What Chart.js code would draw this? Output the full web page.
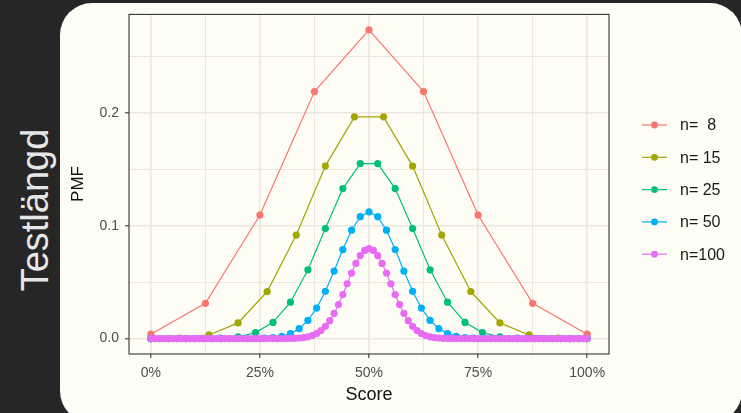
<!DOCTYPE html>
<html>
<head>
<meta charset="utf-8">
<script src="https://cdn.jsdelivr.net/npm/chart.js@4"></script>
<style>
  html, body { margin: 0; padding: 0; }
  body { width: 741px; height: 413px; background: #262626; position: relative; overflow: hidden;
         font-family: "Liberation Sans", Arial, sans-serif; }
  #card { position: absolute; left: 60px; top: 3px; width: 682px; height: 420px;
          background: #fdfdf6; border-radius: 32px; }
  #side { position: absolute; left: 35px; top: 210px; transform: translate(-50%, -50%) rotate(-90deg);
          color: #e6e6e6; font-size: 38px; white-space: nowrap; line-height: 1; }
  #wrap { position: absolute; left: 0; top: 0; width: 741px; height: 413px; }
</style>
</head>
<body>
<div id="card"></div>
<div id="side">Testlängd</div>
<div id="wrap"><canvas id="c" width="741" height="413"></canvas></div>
<script>
// Test lengths and their score distributions (probability of each raw score 0..n)
const testLengths = [8, 15, 25, 50, 100];
const seriesLabels = ['n=  8', 'n= 15', 'n= 25', 'n= 50', 'n=100'];
const seriesColors = ['#F8766D', '#A3A500', '#00BF7D', '#00B0F6', '#E76BF3'];

const pmfN8 = [0.003906, 0.03125, 0.109375, 0.21875, 0.273438, 0.21875, 0.109375, 0.03125, 0.003906];

const pmfN15 = [
  0.0000305, 0.000458, 0.003204, 0.013885, 0.041656, 0.091644, 0.15274, 0.196381,
  0.196381, 0.15274, 0.091644, 0.041656, 0.013885, 0.003204, 0.000458, 0.0000305
];

const pmfN25 = [
  0.00000003, 0.00000075, 0.0000089, 0.0000685, 0.000377, 0.001583, 0.005278, 0.014326, 0.032233, 0.060886,
  0.097417, 0.132843, 0.154981, 0.154981, 0.132843, 0.097417, 0.060886, 0.032233, 0.014326, 0.005278,
  0.001583, 0.000377, 0.0000685, 0.0000089, 0.00000075, 0.00000003
];

const pmfN50 = [
  0, 0, 0, 0, 0, 0, 0, 0, 0.0000005, 0.0000022,
  0.0000091, 0.000033, 0.000108, 0.000315, 0.000833, 0.001999, 0.004373, 0.008747, 0.01604, 0.02701,
  0.04186, 0.0598, 0.07883, 0.09596, 0.10796, 0.112275, 0.10796, 0.09596, 0.07883, 0.0598,
  0.04186, 0.02701, 0.01604, 0.008747, 0.004373, 0.001999, 0.000833, 0.000315, 0.000108, 0.000033,
  0.0000091, 0.0000022, 0.0000005, 0, 0, 0, 0, 0, 0, 0,
  0
];

const pmfN100 = [
  0, 0, 0, 0, 0, 0, 0, 0, 0, 0,
  0, 0, 0, 0, 0, 0, 0, 0, 0, 0,
  0, 0, 0, 0, 0, 0, 0, 0.0000015, 0.0000039, 0.0000098,
  0.000023, 0.000052, 0.000113, 0.000232, 0.000458, 0.000864, 0.00156, 0.002698, 0.004473, 0.007111,
  0.010844, 0.015869, 0.022292, 0.030069, 0.038953, 0.048474, 0.057958, 0.06659, 0.073527, 0.078028,
  0.079589, 0.078028, 0.073527, 0.06659, 0.057958, 0.048474, 0.038953, 0.030069, 0.022292, 0.015869,
  0.010844, 0.007111, 0.004473, 0.002698, 0.00156, 0.000864, 0.000458, 0.000232, 0.000113, 0.000052,
  0.000023, 0.0000098, 0.0000039, 0.0000015, 0, 0, 0, 0, 0, 0,
  0, 0, 0, 0, 0, 0, 0, 0, 0, 0,
  0, 0, 0, 0, 0, 0, 0, 0, 0, 0,
  0
];

const pmfSeries = [pmfN8, pmfN15, pmfN25, pmfN50, pmfN100];

// Axis breaks: major (labelled) and minor (grid only)
const xBreaks = [0, 0.125, 0.25, 0.375, 0.5, 0.625, 0.75, 0.875, 1];
const xMajorLabels = { 0: '0%', 0.25: '25%', 0.5: '50%', 0.75: '75%', 1: '100%' };
const yBreaks = [0, 0.05, 0.1, 0.15, 0.2, 0.25];
const yMajorLabels = { 0: '0.0', 0.1: '0.1', 0.2: '0.2' };

const GRID = '#ebe7df';
const INK = '#333333';
const TICK_TEXT = '#4d4d4d';
const FONT = '"Liberation Sans", Arial, sans-serif';

const datasets = pmfSeries.map((vals, i) => {
  const n = testLengths[i];
  return {
    label: seriesLabels[i],
    data: vals.map((v, k) => ({ x: k / n, y: v })),
    borderColor: seriesColors[i],
    backgroundColor: seriesColors[i],
    borderWidth: 1.2,
    pointRadius: 3.6,
    pointBorderWidth: 0,
    pointHoverRadius: 3.6,
    order: pmfSeries.length - i
  };
});

const isMajor = (map, v) => Object.keys(map).some(k => Math.abs(parseFloat(k) - v) < 1e-9);
const labelOf = (map, v) => {
  const k = Object.keys(map).find(k => Math.abs(parseFloat(k) - v) < 1e-9);
  return k === undefined ? '' : map[k];
};

// Panel border, axis titles and the legend
const decorations = {
  id: 'decorations',
  afterDatasetsDraw(chart) {
    const { ctx, chartArea: a } = chart;
    ctx.save();
    ctx.strokeStyle = INK;
    ctx.lineWidth = 1.1;
    ctx.strokeRect(a.left, a.top, a.right - a.left, a.bottom - a.top);

    ctx.fillStyle = '#111111';
    ctx.font = '18px ' + FONT;
    ctx.textAlign = 'center';
    ctx.textBaseline = 'middle';
    ctx.fillText('Score', (a.left + a.right) / 2, 395);

    ctx.save();
    ctx.translate(78, 184);
    ctx.rotate(-Math.PI / 2);
    ctx.font = '17px ' + FONT;
    ctx.fillText('PMF', 0, 0);
    ctx.restore();

    ctx.font = '16px ' + FONT;
    ctx.textAlign = 'left';
    seriesLabels.forEach((lab, i) => {
      const y = 125 + i * 32.3;
      ctx.strokeStyle = seriesColors[i];
      ctx.lineWidth = 1.2;
      ctx.beginPath();
      ctx.moveTo(642, y);
      ctx.lineTo(667, y);
      ctx.stroke();
      ctx.fillStyle = seriesColors[i];
      ctx.beginPath();
      ctx.arc(654.5, y, 3.4, 0, Math.PI * 2);
      ctx.fill();
      ctx.fillStyle = '#1a1a1a';
      ctx.fillText(lab, 680, y + 1);
    });
    ctx.restore();
  }
};

new Chart(document.getElementById('c'), {
  type: 'line',
  data: { datasets },
  plugins: [decorations],
  options: {
    responsive: false,
    animation: false,
    events: [],
    layout: { padding: { left: 0, top: 13, right: 132, bottom: 0 } },
    plugins: { legend: { display: false }, tooltip: { enabled: false } },
    scales: {
      x: {
        type: 'linear',
        min: -0.05,
        max: 1.05,
        afterBuildTicks: s => { s.ticks = xBreaks.map(v => ({ value: v })); },
        afterFit: s => { s.height = 59; },
        border: { display: false },
        grid: {
          color: GRID,
          lineWidth: c => isMajor(xMajorLabels, c.tick.value) ? 1.6 : 1,
          tickLength: 4,
          tickColor: c => isMajor(xMajorLabels, c.tick.value) ? INK : 'rgba(0,0,0,0)',
          tickWidth: 1.1
        },
        ticks: {
          autoSkip: false,
          maxRotation: 0,
          padding: 7,
          color: TICK_TEXT,
          font: { size: 14, family: FONT },
          callback: v => labelOf(xMajorLabels, v)
        }
      },
      y: {
        type: 'linear',
        min: -0.01367,
        max: 0.2871,
        afterBuildTicks: s => { s.ticks = yBreaks.map(v => ({ value: v })); },
        afterFit: s => { s.width = 129; },
        border: { display: false },
        grid: {
          color: GRID,
          lineWidth: c => isMajor(yMajorLabels, c.tick.value) ? 1.6 : 1,
          tickLength: 4,
          tickColor: c => isMajor(yMajorLabels, c.tick.value) ? INK : 'rgba(0,0,0,0)',
          tickWidth: 1.1
        },
        ticks: {
          autoSkip: false,
          padding: 6,
          color: TICK_TEXT,
          font: { size: 14, family: FONT },
          callback: v => labelOf(yMajorLabels, v)
        }
      }
    }
  }
});
</script>
</body>
</html>
